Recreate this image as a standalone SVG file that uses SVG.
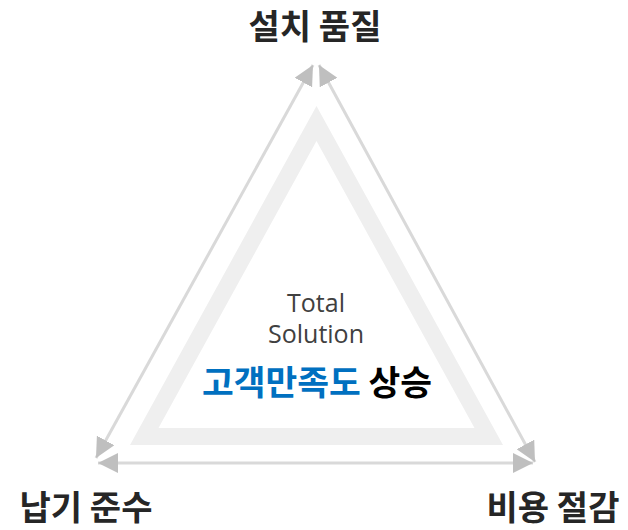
<svg xmlns="http://www.w3.org/2000/svg" width="628" height="530" viewBox="0 0 628 530">
  <style>
    .conn { stroke: #d9d9d9; stroke-width: 3; fill: none; marker-start: url(#ah); marker-end: url(#ah); }
    .corner { font-family: "Noto Sans CJK KR", "Liberation Sans", sans-serif; font-weight: 700; font-size: 34px; fill: #262626; text-anchor: middle; }
    .sub { font-family: "Open Sans", "Liberation Sans", sans-serif; font-size: 25px; fill: #404040; text-anchor: middle; }
    .main { font-family: "Noto Sans CJK KR", "Liberation Sans", sans-serif; font-weight: 700; font-size: 34.5px; text-anchor: middle; }
  </style>
  <defs>
    <marker id="ah" viewBox="0 0 20 20" markerUnits="userSpaceOnUse" markerWidth="20" markerHeight="20" refX="20" refY="10" orient="auto-start-reverse">
      <path d="M0,0 L20,10 L0,20 Z" fill="#bfbfbf"/>
    </marker>
  </defs>
  <rect width="628" height="530" fill="#ffffff"/>
  <g id="band">
    <path d="M316.5,106 L130,445 L503,445 Z M316.5,141 L158.5,428 L474.5,428 Z" fill="#efefef" fill-rule="evenodd"/>
  </g>
  <g id="connectors">
    <path class="conn" d="M313,65 L96,458"/>
    <path class="conn" d="M319,65 L535,462"/>
    <path class="conn" d="M98,463 L533,463"/>
  </g>
  <g id="top">
    <text class="corner" x="315" y="39">설치 품질</text>
  </g>
  <g id="left">
    <text class="corner" x="86" y="520">납기 준수</text>
  </g>
  <g id="right">
    <text class="corner" x="553" y="520">비용 절감</text>
  </g>
  <g id="center">
    <text class="sub" x="316" y="312">Total</text>
    <text class="sub" x="316" y="343">Solution</text>
    <text class="main" x="317" y="395"><tspan fill="#0070c0">고객만족도</tspan><tspan fill="#000000"> 상승</tspan></text>
  </g>
</svg>
